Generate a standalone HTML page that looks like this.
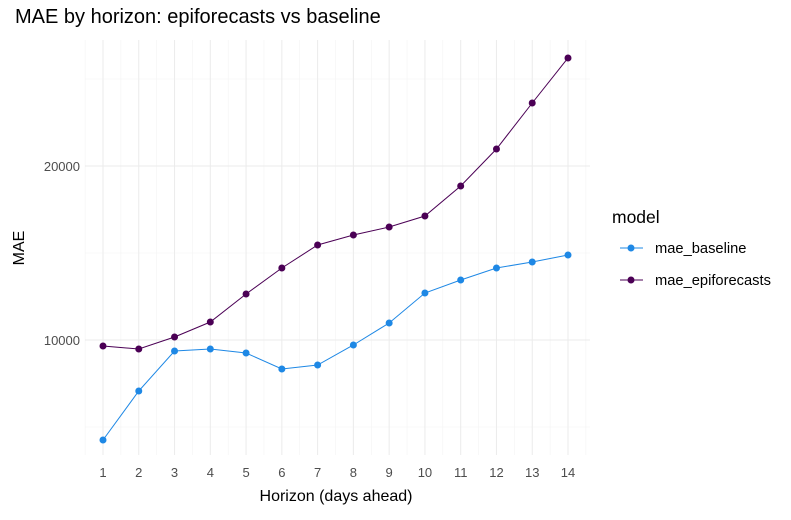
<!DOCTYPE html>
<html><head><meta charset="utf-8"><style>
body{margin:0;background:#fff;font-family:"Liberation Sans",Arial,sans-serif}
</style></head><body>
<svg id="chart" width="791" height="515" xmlns="http://www.w3.org/2000/svg" font-family="Liberation Sans, Arial, sans-serif">
<text x="15" y="23" font-size="20" fill="#000">MAE by horizon: epiforecasts vs baseline</text>
<g id="grid"></g><g id="series"></g><g id="axes"></g>
<text x="336" y="501" font-size="16" text-anchor="middle">Horizon (days ahead)</text>
<text transform="translate(24,248) rotate(-90)" font-size="16" text-anchor="middle">MAE</text>
<g>
<text x="612" y="223" font-size="17.5">model</text>
<g><line x1="620" y1="248" x2="643" y2="248" stroke="#1E88E5"/><circle cx="631" cy="248" r="3.5" fill="#1E88E5"/><text x="655" y="253" font-size="14.7">mae_baseline</text></g>
<g><line x1="620" y1="280" x2="643" y2="280" stroke="#4B0055"/><circle cx="631" cy="280" r="3.5" fill="#4B0055"/><text x="655" y="285" font-size="14.7">mae_epiforecasts</text></g>
</g>
</svg>
<script>
const horizons=[1,2,3,4,5,6,7,8,9,10,11,12,13,14];
const maeBaseline=[4253,7069,9368,9483,9253,8333,8563,9713,10977,12701,13448,14138,14483,14885];
const maeEpiforecasts=[9655,9483,10172,11034,12644,14138,15460,16034,16494,17126,18851,20977,23621,26207];
const yTicks=[10000,20000];
const yMinor=[5000,15000,25000];
const NS="http://www.w3.org/2000/svg";
const L=85,R=590,T=40,B=455;
function xs(h){return 103+(h-1)*(568-103)/13;}
function ys(v){return 340-(v-10000)*174/10000;}
function mk(tag,attrs,parent){const e=document.createElementNS(NS,tag);for(const k in attrs)e.setAttribute(k,attrs[k]);parent.appendChild(e);return e;}
const grid=document.getElementById('grid'),ser=document.getElementById('series'),ax=document.getElementById('axes');
yMinor.forEach(v=>{const l=mk('line',{x1:L,x2:R,y1:ys(v),y2:ys(v),stroke:'#f3f3f3','stroke-width':0.6},grid);

});
horizons.forEach(h=>{if(h<14){const l=mk('line',{x1:xs(h+0.5),x2:xs(h+0.5),y1:T,y2:B,stroke:'#f3f3f3','stroke-width':0.6},grid);

}
const g=mk('line',{x1:xs(h),x2:xs(h),y1:T,y2:B,stroke:'#ebebeb','stroke-width':1},grid);


const t=mk('text',{x:xs(h),y:477,'font-size':13,fill:'#4d4d4d','text-anchor':'middle'},ax);t.textContent=h;

});
const g0=mk('line',{x1:xs(0.5),x2:xs(0.5),y1:T,y2:B,stroke:'#f3f3f3','stroke-width':0.6},grid);


const g1=mk('line',{x1:xs(14.5),x2:xs(14.5),y1:T,y2:B,stroke:'#f3f3f3','stroke-width':0.6},grid);


yTicks.forEach(v=>{const l=mk('line',{x1:L,x2:R,y1:ys(v),y2:ys(v),stroke:'#ebebeb','stroke-width':1},grid);


const t=mk('text',{x:80,y:ys(v)+5,'font-size':13,fill:'#4d4d4d','text-anchor':'end'},ax);t.textContent=v;

});
function draw(vals,color,name){
const p=mk('polyline',{points:vals.map((v,i)=>xs(horizons[i])+','+ys(v)).join(' '),fill:'none',stroke:color,'stroke-width':1},ser);


vals.forEach((v,i)=>{const c=mk('circle',{cx:xs(horizons[i]),cy:ys(v),r:3.5,fill:color},ser);

});}
draw(maeEpiforecasts,'#4B0055','epiforecasts');
draw(maeBaseline,'#1E88E5','baseline');
</script>
</body></html>
